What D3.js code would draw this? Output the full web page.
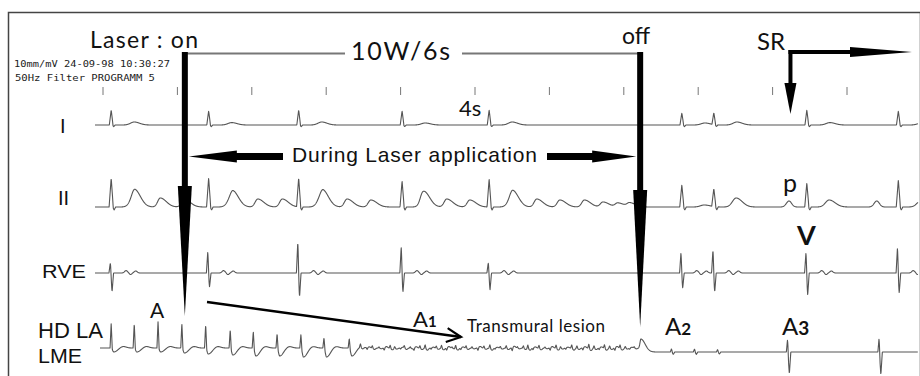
<!DOCTYPE html>
<html><head><meta charset="utf-8">
<script src="https://cdn.jsdelivr.net/npm/d3@7"></script>
<style>html,body{margin:0;padding:0;background:#fff;overflow:hidden}svg{display:block}</style>
</head><body>
<svg id="c" width="920" height="376"></svg>
<script>
// ---------------- data: times in seconds (0 = first 1-s marker), amplitudes in mV ----------------
const secondMarks = [0,1,2,3,4,5,6,7,8,9,10];
const laserOn = 1.10, laserOff = 7.22, sinusStart = 9.24;
const beatTimes = [0.11,1.42,2.63,4.02,5.19,7.78,8.21,9.46,10.69];
const leadI_R   = [0.75,0.7,0.75,0.7,0.75,0.6,0.6,0.75,0.7];
const leadI_T   = [0.15,0.12,0.15,0.1,0.15,0.1,0.15,0.12,0.1];
const leadII_R  = [1.45,1.45,1.45,1.3,1.4,1.1,0.9,1.2,1.35];
const leadII_T  = [0.45,0.4,0.45,0.35,0.4,0.1,0.45,0.35,0.3];
const flutterTimes = [0.43,0.77,1.09,1.75,2.08,2.41,2.96,3.28,3.60,4.30,4.62,4.93,5.51,5.83,6.14,6.47,6.72,6.92,7.08];
const flutterAmp   = [0.45,0.45,0.4,0.45,0.4,0.4,0.45,0.4,0.35,0.45,0.4,0.35,0.45,0.4,0.35,0.35,0.25,0.2,0.2];
const pTimes = [9.22,10.40];
const pAmp   = [0.3,0.3];
const rveUp   = [0.5,1.05,1.55,1.3,0.5,1.0,1.15,1.0,1.25];
const rveDown = [0.95,0.7,1.2,0.95,0.85,0.75,0.95,1.1,1.0];
const laSpikeTimes = [0.11,0.42,0.74,1.06,1.38,1.71,2.02,2.34,2.66,2.97,3.31];
const laSpikeAmp   = [1.25,1.25,1.35,1.25,1.2,0.95,0.85,0.75,0.7,0.55,0.5];
const laSpikeDip   = [0.2,0.2,0.2,0.25,0.3,0.35,0.4,0.4,0.45,0.45,0.4];
const laFragTimes = [3.46,3.55,3.62,3.71,3.78,3.86,3.92,4.00,4.05,4.13,
                     4.18,4.26,4.33,4.41,4.48,4.55,4.62,4.69,4.74,4.81,
                     4.88,4.96,5.04,5.12,5.20,5.27,5.34,5.42,5.50,5.57,
                     5.65,5.71,5.78,5.86,5.94,6.01,6.09,6.15,6.22,6.30,
                     6.37,6.45,6.53,6.60,6.67,6.74,6.81,6.88,6.95,7.02,
                     7.08,7.14];
const laFragAmp   = [0.18,-0.09,0.12,0.06,-0.12,0.15,0.09,-0.06,0.12,0.07,
                     -0.11,0.13,0.18,-0.07,0.11,0.15,-0.12,0.06,0.17,-0.09,
                     0.12,0.07,-0.13,0.11,0.18,-0.06,0.09,0.13,-0.15,0.07,
                     0.12,0.18,-0.09,0.15,0.06,-0.12,0.17,0.09,-0.07,0.18,
                     0.12,-0.11,0.21,0.13,-0.09,0.18,0.12,-0.13,0.17,0.09,
                     -0.06,0.07];
const laOffHump = 7.23, laOffHumpAmp = 0.45;
const laPostTimes = [7.65,7.96,8.27,9.21,10.44];
const laPostUp    = [0.15,0.15,0.12,0.6,0.65];
const laPostDown  = [0.12,0.12,0.1,1.1,1.15];

// ---------------- layout ----------------
const svg = d3.select("#c");
const x = d3.scaleLinear().domain([0,10]).range([103,847]);
const mvPx = 20;
const yScale = base => d3.scaleLinear().domain([-1,1]).range([base+mvPx, base-mvPx]);
const yI = yScale(125), yII = yScale(207), yRV = yScale(273), yLA = yScale(348);

const tri = (t,c,w) => { const d = Math.abs(t-c); return d < w ? 1 - d/w : 0; };
const g = (t,c,s) => { const d = (t-c)/s; return Math.abs(d) > 6 ? 0 : Math.exp(-0.5*d*d); };
const ag = (t,c,s1,s2) => t < c ? g(t,c,s1) : g(t,c,s2);

const leadI = t => { let v = 0;
  beatTimes.forEach((b,i) => { v += leadI_R[i]*tri(t,b,0.025) - 0.08*tri(t,b+0.035,0.02) + leadI_T[i]*ag(t,b+0.31,0.05,0.07); });
  return v; };
const leadII = t => { let v = 0;
  beatTimes.forEach((b,i) => { v += leadII_R[i]*tri(t,b,0.028) - 0.15*tri(t,b+0.04,0.02) + leadII_T[i]*ag(t,b+0.3,0.05,0.08); });
  flutterTimes.forEach((f,i) => { v += flutterAmp[i]*ag(t,f,0.035,0.08); });
  pTimes.forEach((p,i) => { v += pAmp[i]*g(t,p,0.035); });
  return v; };
const rve = t => { let v = 0;
  beatTimes.forEach((b,i) => { v += rveUp[i]*tri(t,b-0.012,0.018) - rveDown[i]*tri(t,b+0.012,0.02)
      + 0.12*g(t,b+0.2,0.02) - 0.08*g(t,b+0.26,0.015) + 0.1*g(t,b+0.33,0.02); });
  return v; };
const la = t => { let v = 0;
  laSpikeTimes.forEach((s,i) => { v += laSpikeAmp[i]*tri(t,s,0.015) - laSpikeDip[i]*ag(t,s+0.035,0.015,0.05) + 0.08*g(t,s+0.16,0.04); });
  laFragTimes.forEach((s,i) => { v += laFragAmp[i]*tri(t,s,0.014) - 0.6*laFragAmp[i]*g(t,s+0.03,0.015); });
  v += laOffHumpAmp*ag(t,laOffHump,0.012,0.06);
  v -= 0.2*(t > laOffHump ? 1 - g(t,laOffHump,0.05) : 0);
  laPostTimes.forEach((s,i) => { v += laPostUp[i]*tri(t,s-0.01,0.015) - laPostDown[i]*tri(t,s+0.015,0.02); });
  return v; };

function sample(t0,t1,f){ const pts=[]; for(let t=t0; t<=t1; t+=0.003) pts.push([t,f(t)]); return pts; }
const tEnd = x.invert(918);

const traces = [
  {f: leadI, y: yI, t0: x.invert(95)},
  {f: leadII, y: yII, t0: x.invert(95)},
  {f: rve, y: yRV, t0: x.invert(95)},
  {f: la, y: yLA, t0: x.invert(100)}
];

// frame
svg.append("rect").attr("x",8.5).attr("y",12.5).attr("width",912).attr("height",380)
  .attr("fill","none").attr("stroke","#444").attr("stroke-width",1.5);

// header (printer) text
const hdr = svg.append("g").attr("font-family","DejaVu Sans Mono, monospace").attr("font-size",9.5).attr("fill","#222");
hdr.append("text").attr("x",14).attr("y",67).attr("textLength",156).attr("lengthAdjust","spacingAndGlyphs").text("10mm/mV 24-09-98  10:30:27");
hdr.append("text").attr("x",15).attr("y",81).attr("textLength",140).attr("lengthAdjust","spacingAndGlyphs").text("50Hz Filter PROGRAMM 5");

// second markers
svg.append("g").selectAll("line").data(secondMarks).join("line")
  .attr("x1",d=>x(d)).attr("x2",d=>x(d)).attr("y1",87).attr("y2",95)
  .attr("stroke","#777").attr("stroke-width",1);

// traces
traces.forEach(tr => {
  const line = d3.line().x(d=>x(d[0])).y(d=>tr.y(d[1])).curve(d3.curveLinear);
  svg.append("path").attr("d", line(sample(tr.t0, tEnd, tr.f)))
    .attr("fill","none").attr("stroke","#555").attr("stroke-width",1.1).attr("stroke-linejoin","round");
});

// lead labels
const lab = svg.append("g").attr("font-family","Liberation Sans, Arial, sans-serif").attr("fill","#111");
lab.append("text").attr("x",60).attr("y",133).attr("font-size",20).text("I");
lab.append("text").attr("x",58).attr("y",205).attr("font-size",20).text("II");
lab.append("text").attr("x",42).attr("y",278).attr("font-size",19).attr("textLength",44).attr("lengthAdjust","spacingAndGlyphs").text("RVE");
lab.append("text").attr("x",38).attr("y",338).attr("font-size",22).attr("textLength",65).attr("lengthAdjust","spacingAndGlyphs").text("HD LA");
lab.append("text").attr("x",38).attr("y",363).attr("font-size",21).attr("textLength",44).attr("lengthAdjust","spacingAndGlyphs").text("LME");

// ---------- annotations ----------
const xOn = x(laserOn), xOff = x(laserOff), xSR = x(sinusStart);
svg.append("line").attr("x1",xOn).attr("x2",345).attr("y1",53.5).attr("y2",53.5).attr("stroke","#777").attr("stroke-width",2);
svg.append("line").attr("x1",462).attr("x2",xOff).attr("y1",53.5).attr("y2",53.5).attr("stroke","#777").attr("stroke-width",2);
function downArrow(cx, top, headTop, tip){
  svg.append("rect").attr("x",cx-3).attr("y",top).attr("width",6).attr("height",headTop-top+1).attr("fill","#000");
  svg.append("path").attr("d",`M${cx-7},${headTop} L${cx+7},${headTop} L${cx},${tip} Z`).attr("fill","#000");
}
downArrow(xOn, 52, 186, 316);
downArrow(xOff, 52, 190, 327);

const yD = 156.5;
const leftTip = xOn + 4;
svg.append("path").attr("d",
  `M${leftTip},${yD} L${leftTip+48},${yD-6} L${leftTip+48},${yD-3.5} L283,${yD-3.5} L283,${yD+3.5} L${leftTip+48},${yD+3.5} L${leftTip+48},${yD+6} Z`).attr("fill","#000");
const rightTip = xOff - 4;
svg.append("path").attr("d",
  `M${rightTip},${yD} L${rightTip-44},${yD-6} L${rightTip-44},${yD-3.5} L547,${yD-3.5} L547,${yD+3.5} L${rightTip-44},${yD+3.5} L${rightTip-44},${yD+6} Z`).attr("fill","#000");

svg.append("rect").attr("x",xSR-2).attr("y",50).attr("width",4).attr("height",34).attr("fill","#000");
svg.append("path").attr("d",`M${xSR-6},83 L${xSR+6},83 L${xSR},114 Z`).attr("fill","#000");
svg.append("rect").attr("x",xSR-2).attr("y",50).attr("width",852-xSR+2).attr("height",4).attr("fill","#000");
svg.append("path").attr("d",`M850,47 L912,52 L850,57 Z`).attr("fill","#000");

const a0=[207,302], a1=[461,337];
svg.append("line").attr("x1",a0[0]).attr("y1",a0[1]).attr("x2",a1[0]).attr("y2",a1[1]).attr("stroke","#000").attr("stroke-width",2.5);
{
  const ang = Math.atan2(a1[1]-a0[1], a1[0]-a0[0]), L = 16, sp = 0.45;
  const p1 = [a1[0]-L*Math.cos(ang-sp), a1[1]-L*Math.sin(ang-sp)];
  const p2 = [a1[0]-L*Math.cos(ang+sp), a1[1]-L*Math.sin(ang+sp)];
  svg.append("path").attr("d",`M${p1[0]},${p1[1]} L${a1[0]},${a1[1]} L${p2[0]},${p2[1]}`)
    .attr("fill","none").attr("stroke","#000").attr("stroke-width",2.2).attr("stroke-linejoin","miter");
}

const T = svg.append("g").attr("font-family","Lato, 'Open Sans', sans-serif").attr("fill","#111");
T.append("text").attr("x",90).attr("y",48).attr("font-size",23).attr("textLength",108).attr("lengthAdjust","spacing").text("Laser : on");
T.append("text").attr("x",351).attr("y",60).attr("font-size",25).attr("textLength",99).attr("lengthAdjust","spacing").text("10W/6s");
T.append("text").attr("x",622).attr("y",44).attr("font-size",23).text("off");
T.append("text").attr("x",757).attr("y",50).attr("font-size",24).text("SR");
T.append("text").attr("x",459).attr("y",116).attr("font-size",22).text("4s");
svg.append("text").attr("x",292).attr("y",162).attr("font-family","Liberation Sans, Arial, sans-serif").attr("font-size",21)
  .attr("fill","#111").attr("textLength",245).attr("lengthAdjust","spacing").text("During Laser application");
T.append("text").attr("x",783).attr("y",192).attr("font-size",25).text("p");
T.append("text").attr("x",797).attr("y",245).attr("font-size",27).attr("font-weight",700).text("V");
T.append("text").attr("x",150).attr("y",318).attr("font-size",21).text("A");
const a1t = T.append("text").attr("x",413).attr("y",327);
a1t.append("tspan").attr("font-size",22).text("A");
a1t.append("tspan").attr("font-size",15).attr("font-weight",700).text("1");
T.append("text").attr("x",467).attr("y",332).attr("font-size",17).attr("textLength",138).attr("lengthAdjust","spacing").text("Transmural lesion");
const a2t = T.append("text").attr("x",665).attr("y",335);
a2t.append("tspan").attr("font-size",24).text("A");
a2t.append("tspan").attr("font-size",17).attr("font-weight",700).text("2");
const a3t = T.append("text").attr("x",782).attr("y",335);
a3t.append("tspan").attr("font-size",24).text("A");
a3t.append("tspan").attr("font-size",19).attr("font-weight",700).text("3");
</script>
</body></html>
